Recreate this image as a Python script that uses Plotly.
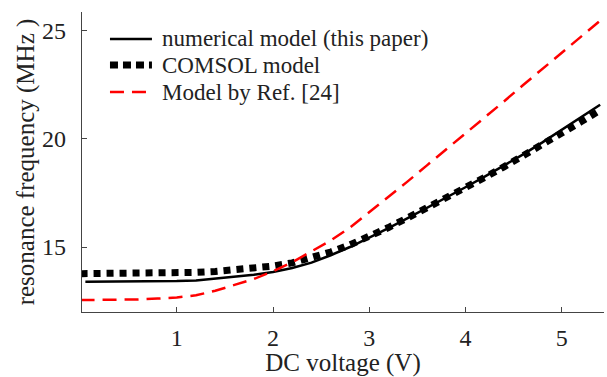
import plotly.graph_objects as go

# DC bias voltage (V)
voltage = [0.0, 0.05, 0.2, 0.4, 0.6, 0.8, 1.0, 1.2, 1.4, 1.6, 1.8, 2.0, 2.2, 2.4,
           2.6, 2.8, 3.0, 3.2, 3.4, 3.6, 3.8, 4.0, 4.2, 4.4, 4.6, 4.8, 5.0, 5.2, 5.4]

# resonance frequency (MHz) for each model
numerical_model = [None, 13.40, 13.40, 13.40, 13.41, 13.42, 13.43, 13.46, 13.54, 13.62,
                   13.72, 13.85, 14.03, 14.28, 14.62, 15.00, 15.42, 15.87, 16.33,
                   16.80, 17.28, 17.76, 18.25, 18.76, 19.28, 19.83, 20.40, 20.98, 21.57]
comsol_model = [13.77, 13.77, 13.77, 13.77, 13.78, 13.79, 13.80, 13.83, 13.87, 13.93,
                14.01, 14.12, 14.27, 14.48, 14.77, 15.10, 15.48, 15.90, 16.35,
                16.80, 17.26, 17.73, 18.21, 18.70, 19.20, 19.72, 20.25, 20.78, 21.32]
ref24_model = [12.55, 12.55, 12.55, 12.56, 12.58, 12.62, 12.67, 12.77, 12.98, 13.25,
               13.52, 13.88, 14.30, 14.80, 15.30, 15.90, 16.60, 17.30, 18.03,
               18.77, 19.50, 20.25, 20.98, 21.72, 22.48, 23.22, 23.97, 24.72, 25.45]

series_names = ["numerical model (this paper)", "COMSOL model", "Model by Ref. [24]"]

x_ticks = [1, 2, 3, 4, 5]
y_ticks = [15, 20, 25]

font_family = "Liberation Serif, Times New Roman, serif"
text_color = "#222222"
axis_color = "#444444"

styles = [
    dict(color="black", width=2.5, dash="solid"),
    dict(color="black", width=7, dash="7px,6px"),
    dict(color="#ff0000", width=2.5, dash="14px,8px"),
]
sample_styles = [
    dict(color="black", width=2.5, dash="solid"),
    dict(color="black", width=7, dash="8px,5px"),
    dict(color="#ff0000", width=2.5, dash="14px,8px"),
]

fig = go.Figure()
for name, values, style in zip(series_names,
                               [numerical_model, comsol_model, ref24_model], styles):
    fig.add_trace(go.Scatter(x=voltage, y=values, mode="lines", name=name,
                             line=style, showlegend=False))

# legend drawn in the upper-left corner of the plot area
legend_rows_y = [0.91, 0.823, 0.733]
for name, style, ry in zip(series_names, sample_styles, legend_rows_y):
    fig.add_shape(type="line", xref="paper", yref="paper",
                  x0=0.0536, x1=0.134, y0=ry, y1=ry, line=style)
    fig.add_annotation(xref="paper", yref="paper", x=0.149, y=ry,
                       xanchor="left", yanchor="middle", showarrow=False,
                       text=name, font=dict(family=font_family, size=23, color=text_color))

fig.update_layout(
    width=607, height=377,
    margin=dict(l=82, r=3, t=12, b=65),
    paper_bgcolor="white", plot_bgcolor="white",
    font=dict(family=font_family, size=24, color=text_color),
    showlegend=False,
)
fig.update_xaxes(
    range=[0.015, 5.44], tickvals=x_ticks, ticktext=[str(v) for v in x_ticks],
    ticks="inside", ticklen=5, tickwidth=1, tickcolor=axis_color,
    showline=True, linecolor=axis_color, linewidth=1.2,
    showgrid=False, zeroline=False, ticklabelstandoff=4,
    title=dict(text="DC voltage (V)", standoff=2, font=dict(size=25)),
    tickfont=dict(size=24),
)
fig.update_yaxes(
    range=[12, 25.85], tickvals=y_ticks, ticktext=[str(v) for v in y_ticks],
    ticks="inside", ticklen=5, tickwidth=1, tickcolor=axis_color,
    showline=True, linecolor=axis_color, linewidth=1.2,
    showgrid=False, zeroline=False, ticklabelstandoff=10,
    title=dict(text="resonance frequency (MHz )", standoff=0, font=dict(size=25)),
    tickfont=dict(size=24),
)

fig.write_html("out.html")
